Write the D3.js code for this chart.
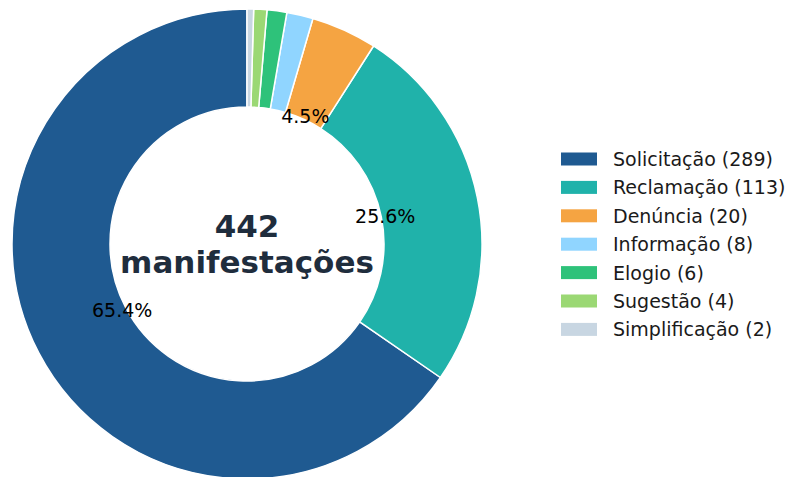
<!DOCTYPE html>
<html><head><meta charset="utf-8">
<script src="https://cdn.jsdelivr.net/npm/d3@7"></script>
<style>body{margin:0;background:#fff}svg{display:block}text{font-family:"DejaVu Sans",sans-serif}</style>
</head><body><svg id="c" width="789" height="477"></svg>
<script>
const categories = ["Solicitação","Reclamação","Denúncia","Informação","Elogio","Sugestão","Simplificação"];
const values = [289,113,20,8,6,4,2];
const colors = ["#1f5a91","#20b2aa","#f5a442","#90d5ff","#2ec27a","#9bd874","#c8d6e2"];
const total = d3.sum(values);
const centerTitle = [String(total), "manifestações"];

const svg = d3.select("#c");
const cx = 247, cy = 244, R = 235, r0 = 137;
const g = svg.append("g").attr("transform", `translate(${cx},${cy})`);
const pie = d3.pie().sort(null).value(d => d).startAngle(0).endAngle(-2*Math.PI);
const arcs = pie(values);
const arc = d3.arc().innerRadius(r0).outerRadius(R);
g.selectAll("path").data(arcs).join("path")
  .attr("d", arc).attr("fill", (d,i) => colors[i])
  .attr("stroke", "#fff").attr("stroke-width", 1.5).attr("stroke-linejoin","round");
const lab = d3.arc().innerRadius(R*0.6).outerRadius(R*0.6);
g.selectAll("text.pct").data(arcs.filter(d => d.data/total >= 0.03)).join("text")
  .attr("class","pct")
  .attr("transform", d => `translate(${lab.centroid(d)})`)
  .attr("text-anchor","middle").attr("dominant-baseline","central")
  .attr("font-size", 19).attr("fill","#000")
  .text(d => (d.data/total*100).toFixed(1) + "%");
g.append("text").attr("text-anchor","middle").attr("font-weight","bold")
  .attr("font-size", 31).attr("fill","#1f2d3d")
  .selectAll("tspan").data(centerTitle).join("tspan")
  .attr("x",0).attr("y",(d,i)=> i===0 ? -18 : 18).attr("dominant-baseline","central").text(d=>d);

const leg = svg.append("g").attr("transform","translate(561,159)");
const rowH = 28.4;
categories.forEach((c,i) => {
  const row = leg.append("g").attr("transform", `translate(0,${i*rowH})`);
  row.append("rect").attr("x",0).attr("y",-6.5).attr("width",36).attr("height",13).attr("fill",colors[i]);
  row.append("text").attr("x",52).attr("y",0).attr("dominant-baseline","central")
    .attr("font-size",19).attr("fill","#1a1a1a").text(`${c} (${values[i]})`);
});
</script></body></html>
